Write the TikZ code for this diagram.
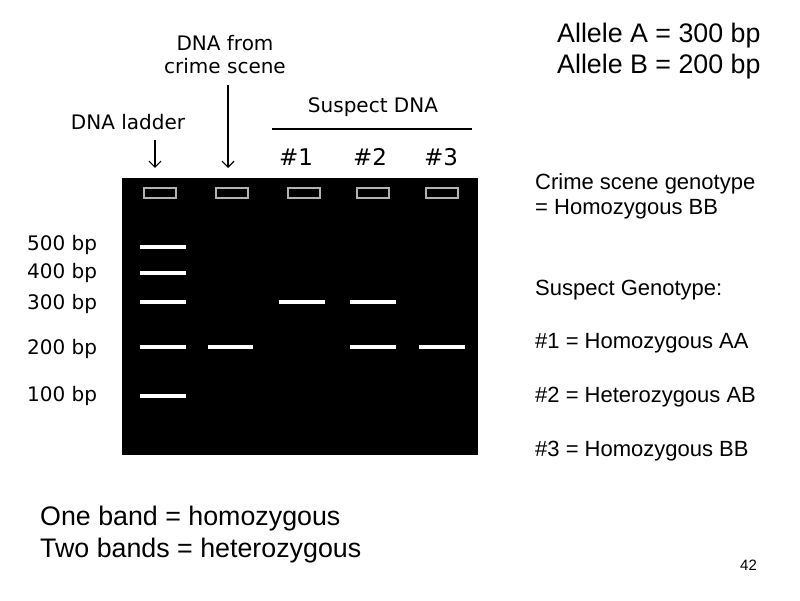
\documentclass[tikz,border=0pt]{standalone}
\usepackage{fontspec}
\setmainfont{Liberation Sans}
\newfontfamily\hand{DejaVu Sans}
\usetikzlibrary{arrows.meta}
\begin{document}
\begin{tikzpicture}[x=1pt,y=-1pt,
  band/.style={white,line width=3.5pt},
  well/.style={draw=gray!60,line width=1.5pt,fill=black},
  hw/.style={font=\hand\fontsize{20}{23}\selectfont,align=center,inner sep=0pt},
  txt/.style={anchor=west,inner sep=0pt,font=\fontsize{22}{25}\selectfont,align=left},
  big/.style={anchor=west,inner sep=0pt,font=\fontsize{26.8}{32}\selectfont,align=left},
  harrow/.style={-{Straight Barb[length=6pt,width=12pt]},line width=1.2pt}]
\useasboundingbox (0,0) rectangle (800,601);
\node[fill=black,minimum width=356pt,minimum height=277pt,inner sep=0pt] (gel) at (300,316.5) {};
\foreach \x/\n in {160/w0,232/w1,304/w2,373/w3,442/w4}{
  \draw[well] (\x-16,188) rectangle (\x+16,198);
  \coordinate (\n) at (\x,186);}
\foreach \y in {247,273,302,347,396}{\draw[band] (140,\y) -- (186,\y);}
\draw[band] (208,347) -- (253,347);
\draw[band] (279,302) -- (325,302);
\draw[band] (350,302) -- (396,302);
\draw[band] (350,347) -- (396,347);
\draw[band] (419,347) -- (465,347);
\foreach \y/\t in {245/500,273/400,304/300,349/200,396/100}{
  \node[hw,anchor=west] (l\t) at (27,\y) {\t\ bp};}
\node[hw] (ladder) at (128,122) {DNA ladder};
\coordinate (a0) at (155,140);
\draw[harrow] (a0) -- (155,168);
\node[hw] (crime) at (225,55) {DNA from\\crime scene};
\coordinate (a1) at (228,85);
\draw[harrow] (a1) -- (228,168);
\node[hw] (sus) at (373,107) {Suspect DNA};
\coordinate (s0) at (272,129); \coordinate (s1) at (472,129);
\draw[line width=1.2pt] (s0) -- (s1);
\node[hw,font=\hand\fontsize{23}{25}\selectfont] (n1) at (296,157) {\#1};
\node[hw,font=\hand\fontsize{23}{25}\selectfont] (n2) at (370,157) {\#2};
\node[hw,font=\hand\fontsize{23}{25}\selectfont] (n3) at (441,157) {\#3};
\node[big,font=\fontsize{26.8}{31}\selectfont] (al) at (557,51) {Allele A = 300 bp\\Allele B = 200 bp};
\node[txt] (cs) at (535,196) {Crime scene genotype\\= Homozygous BB};
\node[txt] (sg) at (535,290) {Suspect Genotype:};
\node[txt] (g1) at (535,343) {\#1 = Homozygous AA};
\node[txt] (g2) at (535,397) {\#2 = Heterozygous AB};
\node[txt] (g3) at (535,451) {\#3 = Homozygous BB};
\node[big] (one) at (40,535) {One band = homozygous\\Two bands = heterozygous};
\node[anchor=west,inner sep=0pt,font=\fontsize{15}{16}\selectfont] (pg) at (740,565) {42};
\end{tikzpicture}
\end{document}
